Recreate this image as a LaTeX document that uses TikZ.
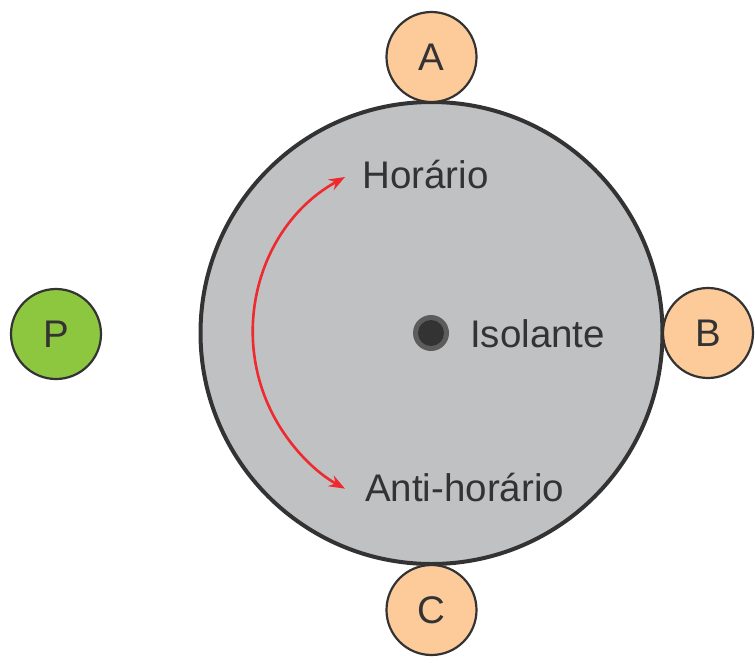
\documentclass[tikz,border=0pt]{standalone}
\usepackage{fontspec}
\setmainfont{Liberation Sans}
\usetikzlibrary{arrows.meta}
\definecolor{disco}{HTML}{C0C1C3}
\definecolor{laranja}{HTML}{FDCA9A}
\definecolor{verde}{HTML}{8DC63F}
\definecolor{borda}{HTML}{333333}
\definecolor{seta}{HTML}{EE2A2F}
\begin{document}
\begin{tikzpicture}[x=1pt, y=-1pt,
every node/.style = {font=\fontsize{38.5}{41}\selectfont, text=borda},
 disk/.style = {circle, draw=borda, line width=4pt, fill=disco,
      minimum size=462pt, inner sep=0pt},
 ball/.style args = {#1}{%
      circle, draw=borda, line width=2.2pt, fill=#1,
      minimum size=90pt, inner sep=0pt},
 rotulo/.style = {anchor=west, inner sep=0pt}
                    ]
\useasboundingbox (0,0) rectangle (755,662);
\node(D) [disk] at (431.5,333) {};
\node(A) [ball=laranja] at (431.5,57) {A};
\node(B) [ball=laranja] at (708,333) {B};
\node(C) [ball=laranja] at (431.5,610) {C};
\node(P) [ball=verde] at (56,334) {P};
%
\node(eixo) [circle, fill=borda!80!white, minimum size=36pt, inner sep=0pt] at (431,333) {};
\node(furo) [circle, fill=borda, minimum size=26pt, inner sep=0pt] at (eixo) {};
\node(iso) [rotulo] at (470,334) {Isolante};
\node(hor) [rotulo] at (362,175) {Horário};
\node(anti) [rotulo] at (365,488) {Anti-horário};
%
\path (eixo) ++(-86,-156) coordinate (ini);
\draw[seta, line width=2.6pt, {Stealth[length=16pt,width=12pt]}-{Stealth[length=16pt,width=12pt]}]
      (ini) arc[start angle=-118.9, end angle=-241.1, radius=178];
\end{tikzpicture}
\end{document}
